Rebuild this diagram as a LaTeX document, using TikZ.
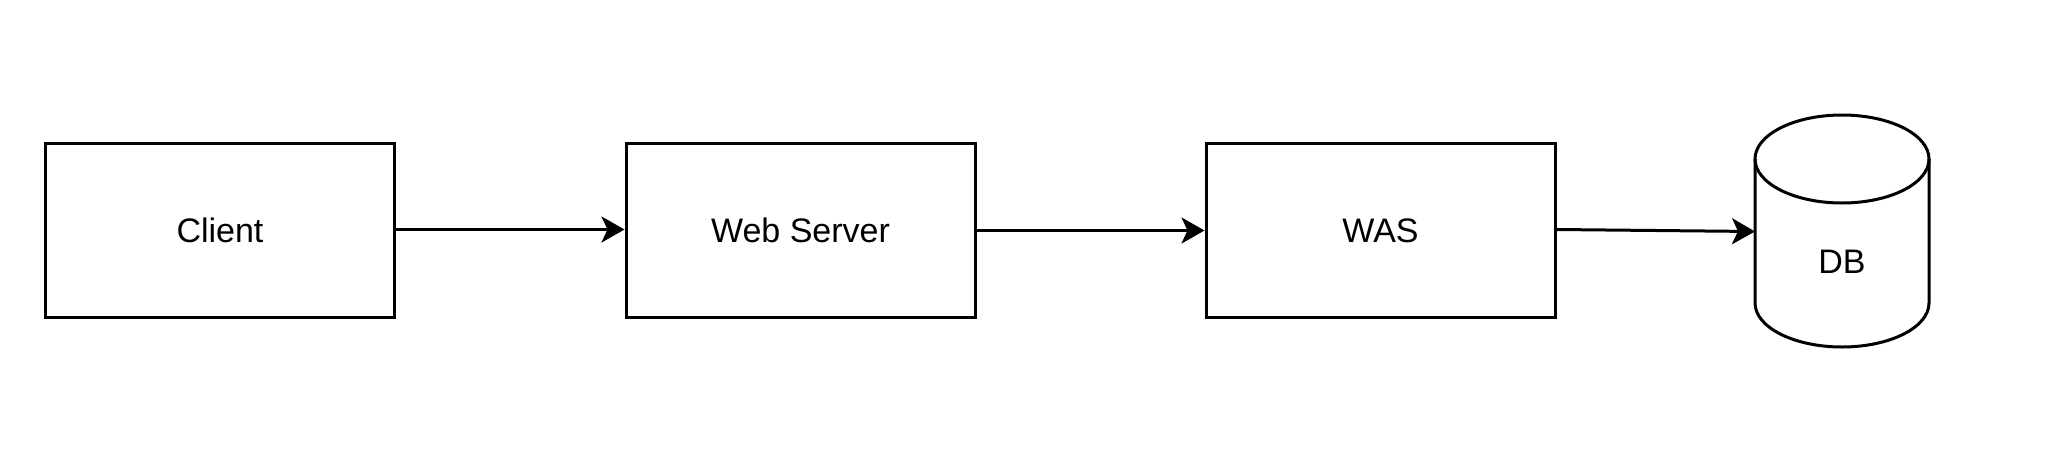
\documentclass[tikz,border=0pt]{standalone}
\usepackage{fontspec}
\setmainfont{Liberation Sans}
\usetikzlibrary{arrows.meta}
\tikzset{
  box/.style={draw=black, line width=3pt, minimum width=349pt, minimum height=174pt, inner sep=0pt, font=\fontsize{34}{40}\selectfont},
  conn/.style={draw=black, line width=3pt, -{Stealth[length=23pt, width=26pt, inset=6pt]}},
  outl/.style={draw=black, line width=3pt},
  lbl/.style={inner sep=0pt, font=\fontsize{34}{40}\selectfont}
}
\begin{document}
\begin{tikzpicture}[x=1pt,y=1pt]
\useasboundingbox (0,0) rectangle (2048,-469);
\fill[white] (0,0) rectangle (2048,-469);
\node[box] (client) at (220,-230.5) {Client};
\node[box] (web) at (800.5,-230.5) {Web Server};
\node[box] (was) at (1380.5,-230.5) {WAS};
% DB cylinder
\draw[outl] (1755,-159) -- (1755,-303) arc[start angle=180, end angle=360, x radius=87, y radius=44] -- (1929,-159);
\draw[outl] (1842,-159) ellipse[x radius=87, y radius=44];
\node[lbl] (db) at (1842,-262) {DB};
\coordinate (dbin) at (1755,-231.5);
\draw[conn] ([yshift=1pt]client.east) -- ([yshift=1pt]web.west);
\draw[conn] (web.east) -- (was.west);
\draw[conn] ([yshift=1pt]was.east) -- (dbin);
\end{tikzpicture}
\end{document}
